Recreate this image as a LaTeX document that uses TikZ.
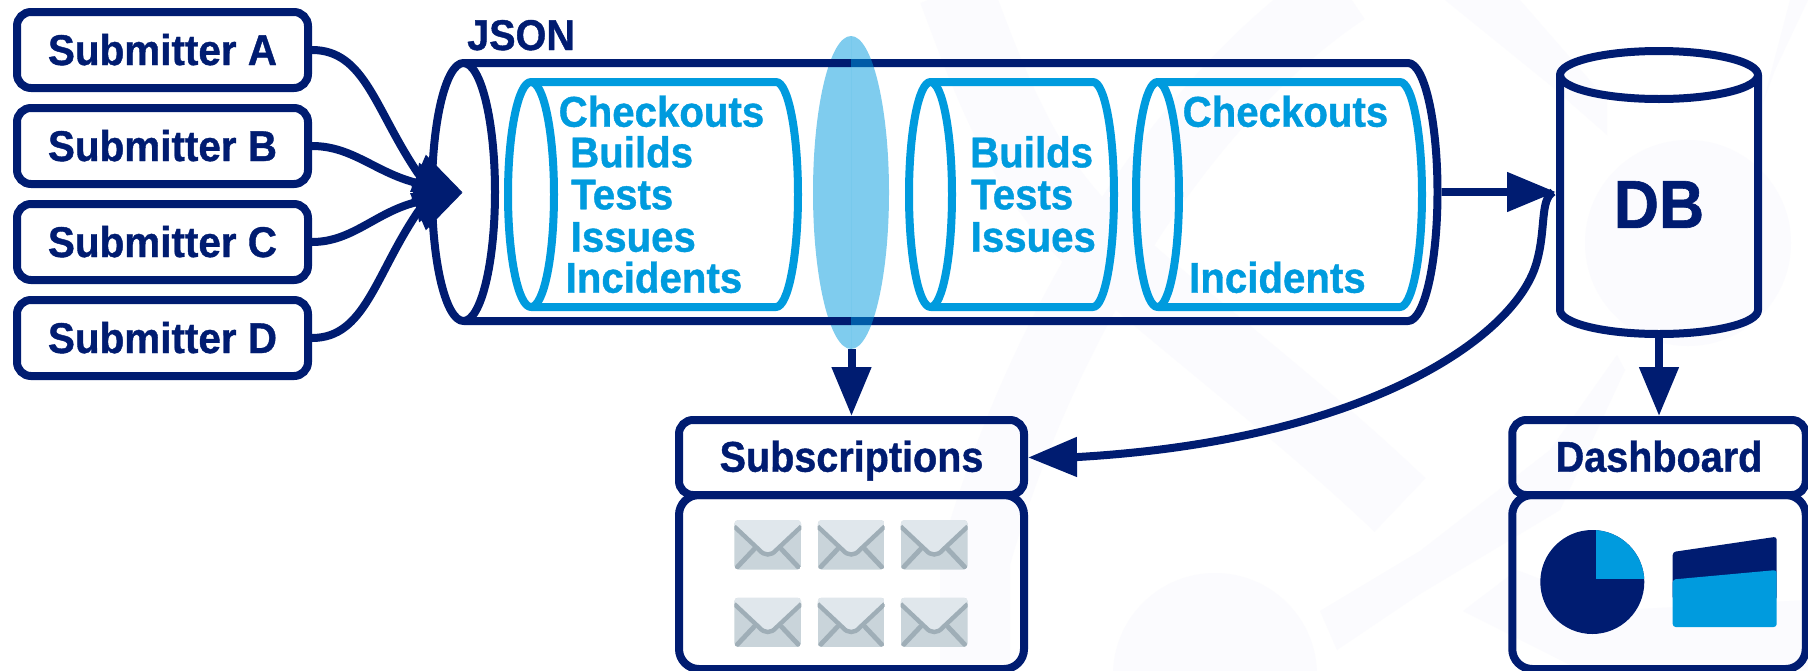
\documentclass[tikz,border=0pt]{standalone}
\usepackage{fontspec}
\setmainfont{Liberation Sans}[FakeStretch=0.92,BoldFeatures={FakeBold=0.9}]
\newfontfamily\subfont{Liberation Sans}[FakeStretch=0.94,BoldFeatures={FakeBold=0.9}]
\newfontfamily\skyfont{Liberation Sans}[FakeStretch=0.935,BoldFeatures={FakeBold=0.9}]
\usetikzlibrary{arrows.meta}
\definecolor{navy}{HTML}{001C71}
\definecolor{sky}{HTML}{009BDE}
\definecolor{wm}{HTML}{FBFBFE}
\definecolor{envbody}{HTML}{C9D4DA}
\definecolor{envflap}{HTML}{E0E7EC}
\definecolor{envline}{HTML}{9FAEB7}
\tikzset{
  x=1pt,y=-1pt,
  box/.style={draw=navy,line width=8pt,rounded corners=14pt,inner sep=0pt,font=\fontsize{43}{43}\selectfont\bfseries,text=navy},
  subbox/.style={box,font=\subfont\fontsize{43}{43}\selectfont\bfseries,minimum width=291pt,minimum height=76pt,text height=30pt,text depth=0pt},
  titlebox/.style={box,minimum height=75pt,text height=28.4pt,text depth=0pt},
  panel/.style={box,rounded corners=20pt,minimum height=174pt},
  tubeline/.style={draw=navy,line width=8pt,line join=round},
  skyline/.style={draw=sky,line width=8pt,line join=round},
  skytext/.style={anchor=base west,inner sep=0pt,text=sky,font=\skyfont\fontsize{43}{43}\selectfont\bfseries},
  feed/.style={draw=navy,line width=8pt,-{Triangle[length=49pt,width=38pt]}},
  wmband/.style={draw=wm,line cap=butt,fill=none},
  envelope/.pic={
    \begin{scope}
      \clip[rounded corners=4pt] (0,0) rectangle (67,49.5);
      \fill[envbody] (0,0) rectangle (67,49.5);
      \fill[envflap] (0,0) -- (67,0) -- (67,6.5) -- (42,30) .. controls (37,35) and (30,35) .. (25,30) -- (0,6.5) -- cycle;
      \draw[envline,line width=4.4pt] (0,6.5) -- (25,30) .. controls (30,36) and (37,36) .. (42,30) -- (67,6.5);
      \draw[envline,line width=4.8pt,line cap=round] (3,47) -- (20,29);
      \draw[envline,line width=4.8pt,line cap=round] (64,47) -- (47,29);
    \end{scope}
  }
}
\begin{document}
\begin{tikzpicture}
\path[use as bounding box,clip] (0,0) rectangle (1808,670);
% faint background watermark
\fill[white] (0,0) rectangle (1808,670);
\draw[wmband,line width=74pt] (955,-10) .. controls (985,70) and (1020,170) .. (1088,235) .. controls (1160,305) and (1290,400) .. (1400,505);
\draw[wmband,line width=70pt] (1345,-10) .. controls (1180,100) and (1040,330) .. (975,560) -- (975,680);
\fill[wm] (1688,243) circle[radius=103pt];
\fill[wm] (1215,675) circle[radius=102pt];
\fill[wm] (1320,611) -- (1420,551) -- (1550,450) -- (1617,355) -- (1625,370) -- (1560,510) -- (1420,594) -- (1337,650) -- cycle;
\fill[wm] (1445,0) -- (1520,0) -- (1607,100) -- (1607,135) -- (1550,85) -- cycle;
\fill[wm] (1790,0) -- (1808,0) -- (1775,70) -- (1763,103) -- cycle;
\fill[wm] (1463,611) -- (1517,570) -- (1620,610) -- (1808,600) -- (1808,670) -- (1580,670) -- cycle;

% filter ellipse, left half under the tube
\fill[sky,opacity=.5] (851,36) arc[start angle=90,end angle=270,x radius=38pt,y radius=156.5pt] -- cycle;

% submitters
\node[subbox] (subA) at (162.5,50) {Submitter A};
\node[subbox] (subB) at (162.5,146) {Submitter B};
\node[subbox] (subC) at (162.5,242) {Submitter C};
\node[subbox] (subD) at (162.5,338) {Submitter D};
\node[anchor=base west,inner sep=0pt,text=navy,font=\fontsize{43}{43}\selectfont\bfseries] (json) at (467,50) {JSON};

% main tube
\coordinate (tubeIn) at (463,192.5);
\coordinate (tubeOut) at (1441.5,192);
\draw[tubeline] (463.5,192) ellipse[x radius=31.5pt,y radius=129pt];
\draw[tubeline] (463.5,63) -- (1408,63) arc[start angle=90,end angle=-90,x radius=29.5pt,y radius=129pt] -- (463.5,321);

% inner cylinders
\draw[skyline] (531,194.5) ellipse[x radius=23pt,y radius=112.5pt];
\draw[skyline] (531,82) -- (776,82) arc[start angle=90,end angle=-90,x radius=22pt,y radius=112.5pt] -- (531,307);
\draw[skyline] (930.5,194.5) ellipse[x radius=21.5pt,y radius=112.5pt];
\draw[skyline] (930.5,82) -- (1093,82) arc[start angle=90,end angle=-90,x radius=21pt,y radius=112.5pt] -- (930.5,307);
\draw[skyline] (1157.5,194.5) ellipse[x radius=21.5pt,y radius=112.5pt];
\draw[skyline] (1157.5,82) -- (1400,82) arc[start angle=90,end angle=-90,x radius=22pt,y radius=112.5pt] -- (1157.5,307);

\node[skytext] (t1) at (558.5,126.7) {Checkouts};
\node[skytext] (t2) at (570,167.3) {Builds};
\node[skytext] (t3) at (571,209.3) {Tests};
\node[skytext] (t4) at (570.5,251.7) {Issues};
\node[skytext] (t5) at (565.5,292.7) {Incidents};
\node[skytext] (t6) at (970,167.3) {Builds};
\node[skytext] (t7) at (971,209.3) {Tests};
\node[skytext] (t8) at (970.5,251.7) {Issues};
\node[skytext] (t9) at (1182.5,126.7) {Checkouts};
\node[skytext] (t10) at (1189,292.7) {Incidents};

% filter ellipse, right half over the tube
\fill[sky,opacity=.5] (851,36) arc[start angle=90,end angle=-90,x radius=38pt,y radius=156.5pt] -- cycle;
\coordinate (filterS) at (851.5,349);

% database
\draw[tubeline] (1659,75) ellipse[x radius=99pt,y radius=24pt];
\draw[tubeline] (1560,75) -- (1560,310) arc[start angle=180,end angle=360,x radius=99pt,y radius=24pt] -- (1758,75);
\node[inner sep=0pt,text=navy,font=\fontsize{68}{68}\selectfont\bfseries] (db) at (1659,204.5) {DB};
\coordinate (dbW) at (1556,192);
\coordinate (dbHook) at (1553,192);
\coordinate (dbS) at (1659,338);

% subscriptions
\node[titlebox,minimum width=345pt] (subs) at (851.5,457.5) {Subscriptions};
\node[panel,minimum width=345pt] (subsP) at (851.5,582) {};
\foreach \px/\py [count=\i] in {734.3/520,817.7/520,900.7/520,734.3/597.5,817.7/597.5,900.7/597.5}
  \pic (env\i) at (\px,\py) {envelope};

% dashboard
\node[titlebox,minimum width=293.5pt] (dash) at (1659,457.5) {Dashboard};
\node[panel,minimum width=293.5pt] (dashP) at (1659,582) {};
\fill[navy] (1592.3,582) circle[radius=52pt];
\begin{scope}
  \clip (1596,520) rectangle (1650,578);
  \fill[sky] (1592.3,582) circle[radius=52pt];
\end{scope}
\fill[navy,rounded corners=3pt] (1672.7,552) -- (1776.7,536.7) -- (1776.7,600) -- (1672.7,600) -- cycle;
\fill[sky,rounded corners=3pt] (1672.7,579.5) -- (1776.7,570) -- (1776.7,627) -- (1672.7,627) -- cycle;

% connectors
\draw[feed] (subA.east) .. controls (365,50) and (375,110) .. (418,173.3) -- (tubeIn);
\draw[feed] (subB.east) .. controls (352,146) and (375,172) .. (415,182.5) -- (tubeIn);
\draw[feed] (subC.east) .. controls (352,242) and (375,213) .. (415,202.5) -- (tubeIn);
\draw[feed] (subD.east) .. controls (365,338) and (375,275) .. (418,211.7) -- (tubeIn);
\draw[feed] (tubeOut) -- (dbW);
\draw[feed] (filterS) -- (subs.north);
\draw[feed] (dbS) -- (dash.north);
\draw[feed] (dbHook) .. controls (1540,200) and (1546,228) .. (1537,261) .. controls (1518,335) and (1370,440) .. (1078,457) -- (subs.east);
\end{tikzpicture}
\end{document}
